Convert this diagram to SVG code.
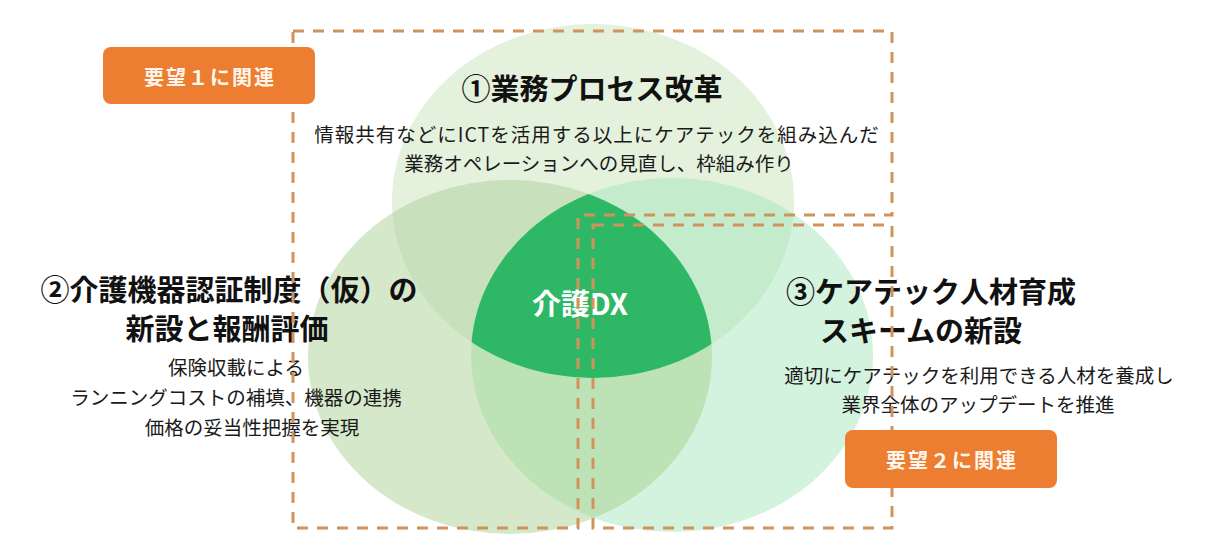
<svg xmlns="http://www.w3.org/2000/svg" width="1206" height="557" viewBox="0 0 1206 557">
  <style>
    .t { font-family: "Noto Sans CJK JP", "Noto Sans", sans-serif; text-anchor: middle; dominant-baseline: central; }
    .title { font-size: 29px; font-weight: 700; fill: #111; }
    .body { font-size: 19.5px; font-weight: 400; fill: #1a1a1a; }
    .tag { font-size: 20px; font-weight: 700; fill: #fff7ee; letter-spacing: 2px; }
    .dash { fill: none; stroke: #d0935c; stroke-width: 3; stroke-dasharray: 11 9; }
    .box { fill: #ed7d31; }
  </style>
  <defs>
    <clipPath id="cp1"><ellipse cx="593" cy="201" rx="201" ry="177"/></clipPath>
    <clipPath id="cp2"><ellipse cx="510" cy="357" rx="202" ry="177"/></clipPath>
    <clipPath id="cp3"><ellipse cx="672" cy="355" rx="201" ry="177"/></clipPath>
  </defs>

  <rect width="1206" height="557" fill="#ffffff"/>

  <g id="venn">
    <ellipse id="circle1" cx="593" cy="201" rx="201" ry="177" fill="#e4f1dd"/>
    <ellipse id="circle2" cx="510" cy="357" rx="202" ry="177" fill="#d5e8ca"/>
    <ellipse id="circle3" cx="672" cy="355" rx="201" ry="177" fill="#d3f3de"/>
    <ellipse cx="593" cy="201" rx="201" ry="177" fill="#c8e0bc" clip-path="url(#cp2)"/>
    <ellipse cx="593" cy="201" rx="201" ry="177" fill="#c4ebcb" clip-path="url(#cp3)"/>
    <ellipse cx="510" cy="357" rx="202" ry="177" fill="#bde2b6" clip-path="url(#cp3)"/>
    <g id="core" clip-path="url(#cp3)">
      <ellipse cx="510" cy="357" rx="202" ry="177" fill="#2eb866" clip-path="url(#cp1)"/>
    </g>
  </g>

  <g id="node-core-label">
    <text class="t" x="580" y="302" style="font-size:29px;font-weight:700;fill:#ffffff">介護DX</text>
  </g>

  <g id="node-1">
    <text class="t title" x="592" y="87">①業務プロセス改革</text>
    <text class="t body" x="597" y="133" letter-spacing="1">情報共有などにICTを活用する以上にケアテックを組み込んだ</text>
    <text class="t body" x="599" y="162">業務オペレーションへの見直し、枠組み作り</text>
  </g>

  <g id="node-2">
    <text class="t title" x="229" y="288">②介護機器認証制度（仮）の</text>
    <text class="t title" x="227" y="327">新設と報酬評価</text>
    <text class="t body" x="236" y="366">保険収載による</text>
    <text class="t body" x="236" y="396">ランニングコストの補填、機器の連携</text>
    <text class="t body" x="252" y="426">価格の妥当性把握を実現</text>
  </g>

  <g id="node-3">
    <text class="t title" x="931" y="290">③ケアテック人材育成</text>
    <text class="t title" x="921" y="329">スキームの新設</text>
    <text class="t body" x="979" y="374">適切にケアテックを利用できる人材を養成し</text>
    <text class="t body" x="978" y="403">業界全体のアップデートを推進</text>
  </g>

  <g id="connectors">
    <path class="dash" d="M293,31 H892 V215 H578 V528 H293 Z"/>
    <path class="dash" d="M593,225 H892 V528 H593 Z"/>
  </g>

  <g id="tag-1">
    <rect class="box" x="103" y="47" width="212" height="57" rx="8"/>
    <text class="t tag" x="210" y="76">要望１に関連</text>
  </g>
  <g id="tag-2">
    <rect class="box" x="845" y="430" width="212" height="58" rx="8"/>
    <text class="t tag" x="952" y="459">要望２に関連</text>
  </g>
</svg>
